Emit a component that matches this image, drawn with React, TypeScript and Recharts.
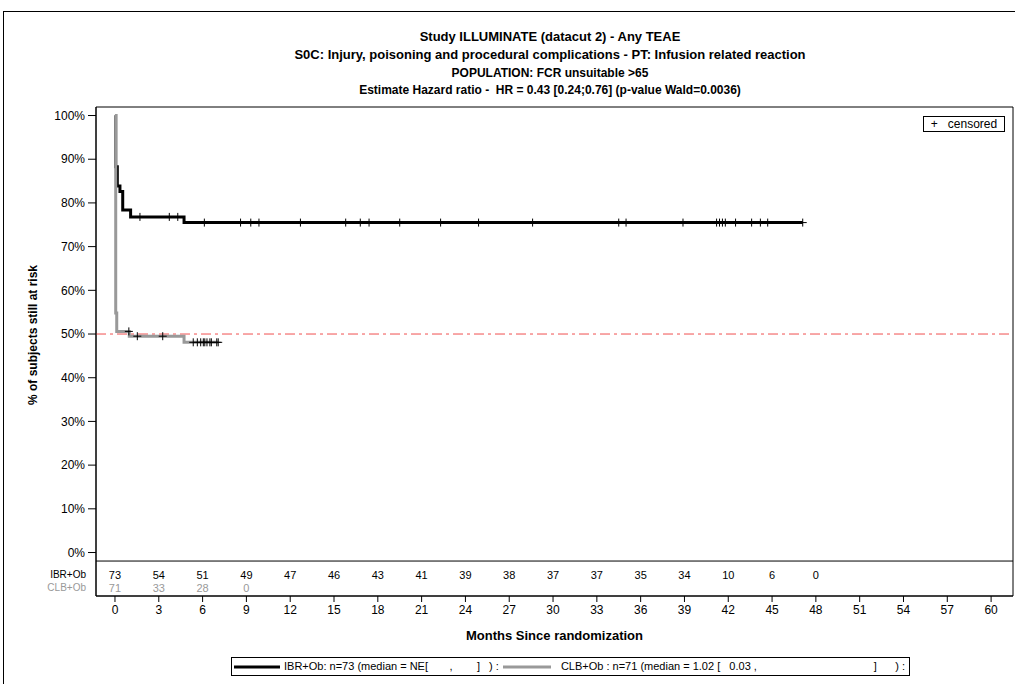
import { ComposedChart, Line, Scatter, XAxis, YAxis, ReferenceLine, ReferenceArea } from "recharts"

// KM step points (months, % still at risk)
const ibrTimes = [0, 0.05, 0.16, 0.34, 0.53, 1.07, 4.73, 47.1]
const ibrSurv = [100, 88.3, 83.9, 82.6, 78.4, 76.8, 75.5, 75.5]
const clbTimes = [0, 0.05, 0.12, 0.98, 4.73, 7.07]
const clbSurv = [100, 54.8, 50.6, 49.5, 48.1, 48.1]

// censored subjects
const ibrCensorTimes = [1.71, 3.72, 4.3, 6.12, 8.6, 9.3, 9.86, 12.7, 15.8, 16.8, 17.4, 19.5, 22.3, 24.9, 28.6, 34.5, 35.0, 38.9, 41.2, 41.4, 41.6, 41.8, 42.5, 43.6, 44.2, 44.7, 47.1]
const ibrCensorSurv = [76.8, 76.8, 76.8, 75.5, 75.5, 75.5, 75.5, 75.5, 75.5, 75.5, 75.5, 75.5, 75.5, 75.5, 75.5, 75.5, 75.5, 75.5, 75.5, 75.5, 75.5, 75.5, 75.5, 75.5, 75.5, 75.5, 75.5]
const clbCensorTimes = [0.95, 1.53, 3.27, 5.36, 5.64, 5.87, 6.05, 6.15, 6.3, 6.5, 6.6, 6.97, 7.07]
const clbCensorSurv = [50.6, 49.5, 49.5, 48.1, 48.1, 48.1, 48.1, 48.1, 48.1, 48.1, 48.1, 48.1, 48.1]

// number at risk table
const ibrRiskMonths = [0, 3, 6, 9, 12, 15, 18, 21, 24, 27, 30, 33, 36, 39, 42, 45, 48]
const ibrAtRisk = [73, 54, 51, 49, 47, 46, 43, 41, 39, 38, 37, 37, 35, 34, 10, 6, 0]
const clbRiskMonths = [0, 3, 6, 9]
const clbAtRisk = [71, 33, 28, 0]

const xTicks = [0, 3, 6, 9, 12, 15, 18, 21, 24, 27, 30, 33, 36, 39, 42, 45, 48, 51, 54, 57, 60]
const yTicks = [0, 10, 20, 30, 40, 50, 60, 70, 80, 90, 100]

const titleLines = [
  "Study ILLUMINATE (datacut 2) - Any TEAE",
  "S0C: Injury, poisoning and procedural complications - PT: Infusion related reaction",
  "POPULATION: FCR unsuitable >65",
  "Estimate Hazard ratio -  HR = 0.43 [0.24;0.76] (p-value Wald=0.0036)",
]

const X_DOMAIN = [-1.3, 61.5]
const Y_DOMAIN = [-9.95, 101.95]
const IBR_ROW = -5.15
const CLB_ROW = -8.1
const SEPARATOR = -1.95

const FONT = "'Liberation Sans', Arial, sans-serif"

const zip = (t: number[], s: number[]) => t.map((v, i) => ({ t: v, s: s[i] }))
const ibrData = zip(ibrTimes, ibrSurv)
const clbData = zip(clbTimes, clbSurv)
const ibrCensor = zip(ibrCensorTimes, ibrCensorSurv)
const clbCensor = zip(clbCensorTimes, clbCensorSurv)
const ibrRisk = ibrRiskMonths.map((m, i) => ({ t: m, s: IBR_ROW, n: ibrAtRisk[i] }))
const clbRisk = clbRiskMonths.map((m, i) => ({ t: m, s: CLB_ROW, n: clbAtRisk[i] }))

const Plus = (p: any) => (
  <path d={`M${p.cx - 4},${p.cy}H${p.cx + 4}M${p.cx},${p.cy - 4}V${p.cy + 4}`} stroke="#000" strokeWidth={1} fill="none" />
)

const riskText = (color: string) => (p: any) => (
  <text x={p.cx} y={p.cy} textAnchor="middle" dominantBaseline="central" fontSize={11} fill={color} fontFamily={FONT}>
    {p.payload.n}
  </text>
)

export default function App() {
  return (
    <div style={{ position: "absolute", left: 0, top: 0, width: 1015, height: 684, overflow: "hidden", background: "#fff", fontFamily: FONT }}>
      <div style={{ position: "absolute", left: 3, top: 11, width: 1200, height: 900, border: "1px solid #000" }} />

      {titleLines.map((t, i) => (
        <div
          key={i}
          style={{
            position: "absolute", left: 0, width: 1100, textAlign: "center", whiteSpace: "pre",
            top: [29, 47, 65, 82][i], fontSize: i < 2 ? 13 : 12, fontWeight: "bold", lineHeight: "16px", color: "#000",
          }}
        >
          {t}
        </div>
      ))}

      <div style={{ position: "absolute", left: 0, top: 0 }}>
        <ComposedChart width={1015} height={684} margin={{ top: 107, right: 2, bottom: 42, left: 36 }}>
          <XAxis
            type="number" dataKey="t" domain={X_DOMAIN} ticks={xTicks} allowDataOverflow
            tickSize={6} tickMargin={3} height={46}
            tick={{ fontSize: 12, fill: "#000", fontFamily: FONT }}
            axisLine={{ stroke: "#000" }} tickLine={{ stroke: "#000" }}
            label={{ value: "Months Since randomization", position: "insideBottom", offset: 2, fontSize: 13, fontWeight: "bold", fill: "#000", fontFamily: FONT }}
          />
          <YAxis
            type="number" dataKey="s" domain={Y_DOMAIN} ticks={yTicks} allowDataOverflow
            width={60} tickSize={8} tickMargin={3}
            tickFormatter={(v: number) => `${v}%`}
            tick={{ fontSize: 12, fill: "#000", fontFamily: FONT }}
            axisLine={{ stroke: "#000" }} tickLine={{ stroke: "#000" }}
            label={{
              content: () => (
                <text x={33} y={335} transform="rotate(-90 33 335)" textAnchor="middle" dominantBaseline="central" fontSize={12} fontWeight="bold" fill="#000" fontFamily={FONT}>
                  % of subjects still at risk
                </text>
              ),
            }}
          />
          <ReferenceArea x1={X_DOMAIN[0]} x2={X_DOMAIN[1]} y1={Y_DOMAIN[0]} y2={Y_DOMAIN[1]} fill="none" stroke="#000" strokeWidth={1} fillOpacity={0} />
          <ReferenceLine y={SEPARATOR} stroke="#000" strokeWidth={1} />
          <ReferenceLine y={50} stroke="#f05050" strokeWidth={1} strokeDasharray="10 4 3 4" />

          <Line data={ibrData} dataKey="s" type="stepAfter" stroke="#000" strokeWidth={3} dot={false} isAnimationActive={false} />
          <Line data={clbData} dataKey="s" type="stepAfter" stroke="#999" strokeWidth={3} dot={false} isAnimationActive={false} />
          <Scatter data={ibrCensor} dataKey="s" shape={Plus} isAnimationActive={false} />
          <Scatter data={clbCensor} dataKey="s" shape={Plus} isAnimationActive={false} />
          <Scatter data={ibrRisk} dataKey="s" shape={riskText("#000")} isAnimationActive={false} />
          <Scatter data={clbRisk} dataKey="s" shape={riskText("#999")} isAnimationActive={false} />
        </ComposedChart>
      </div>

      <div style={{ position: "absolute", left: 46, top: 568, width: 40, textAlign: "right", fontSize: 10, lineHeight: "13px" }}>
        <div style={{ color: "#000" }}>IBR+Ob</div>
        <div style={{ color: "#999" }}>CLB+Ob</div>
      </div>

      <div style={{ position: "absolute", left: 923, top: 116, width: 80, height: 14, border: "1px solid #000", fontSize: 12, lineHeight: "14px", whiteSpace: "pre", textAlign: "center" }}>
        {"+   censored"}
      </div>

      <div style={{ position: "absolute", left: 231, top: 657, width: 677, height: 17, border: "1px solid #000", fontSize: 11, lineHeight: "17px", whiteSpace: "pre", display: "flex", alignItems: "center" }}>
        <svg width={50} height={17}><line x1={2} y1={9} x2={48} y2={9} stroke="#000" strokeWidth={3} /></svg>
        <span style={{ marginLeft: 2 }}>{"IBR+Ob: n=73 (median = NE[       ,        ]   ) :"}</span>
        <svg width={52} height={17} style={{ marginLeft: 2 }}><line x1={2} y1={9} x2={50} y2={9} stroke="#999" strokeWidth={3} /></svg>
        <span style={{ marginLeft: 8, flex: 1, display: "flex", justifyContent: "space-between", paddingRight: 4 }}>
          <span>{"CLB+Ob : n=71 (median = 1.02 [   0.03 ,"}</span>
          <span>{"]      ) :"}</span>
        </span>
      </div>
    </div>
  )
}
